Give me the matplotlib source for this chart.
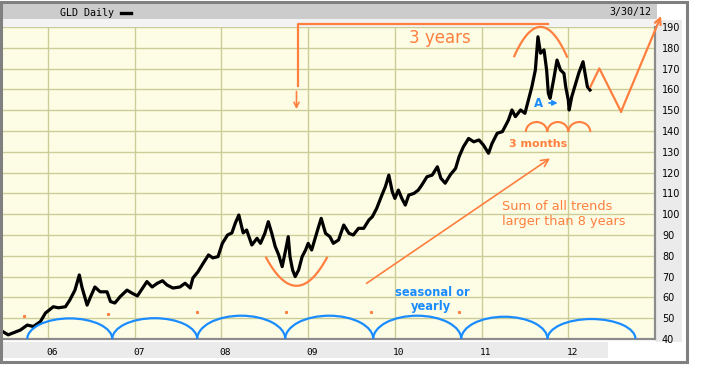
import matplotlib
matplotlib.use("Agg")
import matplotlib.pyplot as plt
import numpy as np
from matplotlib.patches import Rectangle, Arc
from matplotlib.lines import Line2D
import matplotlib.transforms as mtrans

W, H = 701, 374

# GLD daily (decimal year, price in $)
dates = [2005.48, 2005.54, 2005.60, 2005.68, 2005.76, 2005.83, 2005.91, 2005.97,
         2006.06, 2006.12, 2006.20, 2006.25, 2006.31, 2006.36, 2006.39, 2006.45,
         2006.49, 2006.54, 2006.60, 2006.68, 2006.72, 2006.77, 2006.83, 2006.91,
         2006.97, 2007.03, 2007.09, 2007.14, 2007.20, 2007.26, 2007.32, 2007.37,
         2007.44, 2007.52, 2007.58, 2007.64, 2007.67, 2007.73, 2007.79, 2007.85,
         2007.90, 2007.96, 2008.01, 2008.07, 2008.12, 2008.16, 2008.20, 2008.25,
         2008.29, 2008.35, 2008.41, 2008.45, 2008.50, 2008.54, 2008.58, 2008.62,
         2008.66, 2008.70, 2008.74, 2008.77, 2008.79, 2008.82, 2008.85, 2008.89,
         2008.93, 2008.97, 2009.00, 2009.04, 2009.08, 2009.12, 2009.15, 2009.20,
         2009.25, 2009.29, 2009.35, 2009.41, 2009.47, 2009.52, 2009.58, 2009.64,
         2009.70, 2009.74, 2009.79, 2009.85, 2009.89, 2009.93, 2009.97, 2010.00,
         2010.04, 2010.08, 2010.12, 2010.16, 2010.22, 2010.27, 2010.31, 2010.37,
         2010.43, 2010.49, 2010.53, 2010.58, 2010.64, 2010.70, 2010.74, 2010.79,
         2010.85, 2010.91, 2010.97, 2011.02, 2011.08, 2011.12, 2011.18, 2011.24,
         2011.27, 2011.31, 2011.35, 2011.39, 2011.45, 2011.50, 2011.54, 2011.58,
         2011.62, 2011.65, 2011.68, 2011.72, 2011.75, 2011.77, 2011.79, 2011.83,
         2011.87, 2011.91, 2011.95, 2011.97, 2012.00, 2012.01, 2012.04, 2012.08,
         2012.12, 2012.17, 2012.20, 2012.22, 2012.25]
prices = [43.5, 42.0, 43.0, 44.3, 46.7, 46.0, 48.3, 52.5,
          55.5, 55.0, 55.5, 58.7, 63.5, 70.8, 65.0, 56.3,
          60.3, 65.0, 62.7, 62.7, 58.0, 57.3, 60.3, 63.5,
          62.0, 60.7, 64.5, 67.6, 65.0, 66.8, 68.0, 66.0,
          64.5, 65.0, 66.8, 64.5, 69.3, 72.4, 76.5, 80.4,
          79.0, 79.6, 86.0, 90.0, 91.0, 95.8, 99.6, 91.0,
          92.4, 85.2, 88.4, 86.0, 90.8, 96.4, 90.8, 84.4,
          80.4, 74.8, 82.8, 89.2, 79.6, 73.2, 70.0, 73.2,
          79.6, 82.8, 86.0, 82.8, 88.4, 94.0, 98.0, 90.8,
          89.2, 86.0, 87.6, 94.8, 90.8, 90.0, 93.2, 93.2,
          97.2, 98.8, 102.8, 109.2, 113.2, 118.8, 110.8, 107.6,
          111.6, 107.6, 104.4, 109.2, 110.0, 111.6, 114.0, 118.0,
          118.8, 122.8, 117.3, 114.9, 119.0, 122.0, 127.6, 132.4,
          136.4, 134.8, 135.7, 133.3, 129.3, 134.0, 138.9, 139.7,
          142.1, 145.3, 150.1, 146.9, 150.1, 148.5, 154.9, 161.3,
          169.3, 185.3, 177.4, 179.0, 169.3, 158.1, 155.7, 164.5,
          174.1, 169.3, 167.7, 161.3, 154.9, 150.1, 156.5, 162.1,
          167.7, 173.3, 166.1, 161.3, 159.7]

years = [2006, 2007, 2008, 2009, 2010, 2011, 2012]
year_labels = ['06', '07', '08', '09', '10', '11', '12']
price_ticks = list(range(40, 200, 10))

# hand-drawn cycle annotations
season_feet = [2005.76, 2006.74, 2007.72, 2008.735, 2009.75, 2010.765, 2011.76, 2012.775]
season_tops = [49.9, 50.0, 51.2, 51.2, 51.2, 50.7, 49.6]
quarter_feet = [2011.51, 2011.758, 2012.0, 2012.254]
proj_t = [2012.254, 2012.358, 2012.608, 2013.07]
proj_v = [161.2, 170.1, 149.3, 195.3]
stray_t = [2005.727, 2006.692, 2007.716, 2008.743, 2009.727, 2010.742]
stray_v = [51.2, 52.0, 53.1, 53.1, 53.1, 53.0]

ORANGE = '#ff7f3f'
BLUE = '#1a8cff'
GRID = '#cccc99'


def fx(px):
    return px / W


def fy(py):
    return 1 - py / H


fig = plt.figure(figsize=(W / 100, H / 100), dpi=100)
fig.patch.set_facecolor('white')

# chart furniture (header, label strips, frame)
fig.add_artist(Rectangle((fx(2), fy(19)), fx(655), 16 / H, transform=fig.transFigure,
                         facecolor='#cccccc', edgecolor='none', zorder=0))
fig.add_artist(Rectangle((fx(2), fy(27)), fx(655), 8 / H, transform=fig.transFigure,
                         facecolor='#f3f3f3', edgecolor='none', zorder=0))
fig.add_artist(Rectangle((fx(656), fy(342)), fx(26), 322 / H, transform=fig.transFigure,
                         facecolor='#ebebeb', edgecolor='none', zorder=0))
fig.add_artist(Rectangle((fx(3), fy(358)), fx(605), 16 / H, transform=fig.transFigure,
                         facecolor='#ebebeb', edgecolor='none', zorder=0))
fig.add_artist(Rectangle((fx(1.2), fy(361.5)), fx(685.3), 360 / H, transform=fig.transFigure,
                         facecolor='none', edgecolor='#808080', lw=2.2, zorder=10))

fig.text(fx(60), fy(13), 'GLD Daily', family='DejaVu Sans Mono', size=7.2,
         ha='left', va='center')
fig.add_artist(Line2D([fx(121), fx(131)], [fy(13), fy(13)], transform=fig.transFigure,
                      color='black', lw=2.4))
fig.text(fx(651), fy(12), '3/30/12', family='DejaVu Sans Mono', size=7.2,
         ha='right', va='center')

ax = fig.add_axes([fx(3), fy(339), fx(652), 312 / H])
ax.set_facecolor('#fdfde6')
ax.set_xlim(2005.48, 2013.0)
ax.set_ylim(40, 190)
ax.set_xticks(years)
ax.set_yticks(price_ticks)
ax.grid(True, color=GRID, lw=1.0)
ax.set_axisbelow(True)
ax.tick_params(axis='x', length=0, labelbottom=False)
ax.tick_params(axis='y', length=0, left=False, labelleft=False, right=True,
               labelright=True, pad=5, labelsize=7)
for s in ['top', 'left']:
    ax.spines[s].set_visible(False)
for s in ['bottom', 'right']:
    ax.spines[s].set_color('#8c8c8c')
    ax.spines[s].set_linewidth(1.6)

xt = mtrans.blended_transform_factory(ax.transData, ax.transAxes)
for yr, lab in zip(years, year_labels):
    ax.text(yr + 0.045, -0.042, lab, transform=xt, ha='center', va='center',
            family='DejaVu Sans Mono', size=6.8)

# price
ax.plot(dates, prices, color='black', lw=2.3, zorder=3)

# yearly cycle arcs
for a, b, top in zip(season_feet[:-1], season_feet[1:], season_tops):
    ax.add_patch(Arc(((a + b) / 2, 40), b - a, 2 * (top - 40), theta1=0, theta2=180,
                     color=BLUE, lw=1.6, clip_on=False, zorder=4))
ax.plot(stray_t, stray_v, ls='none', marker='s', ms=1.2, color=ORANGE)
ax.text(2010.43, 62.3, 'seasonal or', color=BLUE, weight='bold', size=8.3,
        ha='center', va='center')
ax.text(2010.42, 55.5, 'yearly', color=BLUE, weight='bold', size=8.3,
        ha='center', va='center')

# 3 month arcs
for a, b in zip(quarter_feet[:-1], quarter_feet[1:]):
    ax.add_patch(Arc(((a + b) / 2, 139.5), b - a, 9.6, theta1=0, theta2=180,
                     color=ORANGE, lw=1.5, zorder=4))
ax.text(2011.654, 133.7, '3 months', color=ORANGE, weight='bold', size=8,
        ha='center', va='center')

# A ->
ax.text(2011.654, 153, 'A', color=BLUE, weight='bold', size=8.5, ha='center', va='center')
ax.annotate('', xy=(2011.91, 153.5), xytext=(2011.745, 153.5),
            arrowprops=dict(arrowstyle='-|>', color=BLUE, lw=1.3, mutation_scale=7))

# 2008 low curve and the 3 year top arch
cx = np.linspace(2008.515, 2009.216, 40)
ax.plot(cx, np.polyval(np.polyfit([2008.515, 2008.85, 2009.216], [79.1, 65.6, 79.1], 2), cx),
        color=ORANGE, lw=1.6, zorder=4)
cx = np.linspace(2011.377, 2011.985, 40)
ax.plot(cx, np.polyval(np.polyfit([2011.377, 2011.696, 2011.985], [176.0, 190.0, 175.7], 2), cx),
        color=ORANGE, lw=1.6, zorder=4, clip_on=False)

ax.plot([2008.881, 2008.881, 2011.769], [161.6, 191.4, 191.4], color=ORANGE, lw=1.6,
        clip_on=False, zorder=4)
ax.annotate('', xy=(2008.865, 150.5), xytext=(2008.865, 159.0),
            arrowprops=dict(arrowstyle='->', color=ORANGE, lw=1.2, mutation_scale=9,
                            shrinkA=0, shrinkB=0))
ax.text(2010.52, 184.6, '3 years', color=ORANGE, size=12, ha='center', va='center')

# long term trend arrow
ax.annotate('', xy=(2011.815, 127.6), xytext=(2009.646, 66.0),
            arrowprops=dict(arrowstyle='->', color=ORANGE, lw=1.2, mutation_scale=13))
ax.text(2011.238, 103.5, 'Sum of all trends', color=ORANGE, size=9.3, ha='left', va='center')
ax.text(2011.238, 96.7, 'larger than 8 years', color=ORANGE, size=9.3, ha='left', va='center')

# projection
ax.plot(proj_t[:-1], proj_v[:-1], color=ORANGE, lw=1.6, zorder=4, clip_on=False)
ax.annotate('', xy=(proj_t[-1], proj_v[-1]), xytext=(proj_t[-2], proj_v[-2]),
            annotation_clip=False,
            arrowprops=dict(arrowstyle='->', color=ORANGE, lw=1.6, mutation_scale=11,
                            shrinkA=0, shrinkB=0))

fig.savefig('out.png', dpi=100)
